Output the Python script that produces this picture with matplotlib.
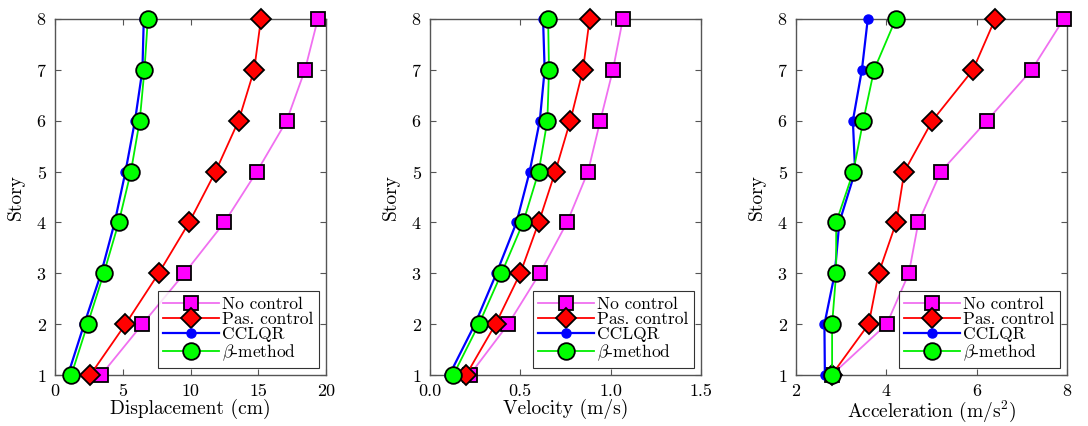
import matplotlib
matplotlib.use("Agg")
import matplotlib.pyplot as plt

plt.rcParams['font.family'] = 'serif'
plt.rcParams['font.serif'] = ['cmr10']
plt.rcParams['mathtext.fontset'] = 'cm'
plt.rcParams['axes.formatter.use_mathtext'] = True

stories = [1, 2, 3, 4, 5, 6, 7, 8]

# displacement (cm)
disp_none = [3.4, 6.45, 9.55, 12.5, 14.9, 17.1, 18.45, 19.4]
disp_pas = [2.6, 5.2, 7.65, 9.9, 11.85, 13.55, 14.7, 15.2]
disp_cclqr = [0.95, 2.15, 3.4, 4.4, 5.2, 5.9, 6.45, 6.55]
disp_beta = [1.2, 2.4, 3.6, 4.7, 5.6, 6.25, 6.6, 6.85]

# velocity (m/s)
vel_none = [0.22, 0.433, 0.608, 0.759, 0.875, 0.943, 1.013, 1.068]
vel_pas = [0.2, 0.363, 0.5, 0.602, 0.694, 0.777, 0.847, 0.884]
vel_cclqr = [0.107, 0.249, 0.368, 0.479, 0.552, 0.608, 0.635, 0.626]
vel_beta = [0.129, 0.271, 0.396, 0.516, 0.602, 0.65, 0.659, 0.654]

# acceleration (m/s^2)
acc_none = [2.79, 4.01, 4.5, 4.71, 5.21, 6.23, 7.22, 7.93]
acc_pas = [2.79, 3.61, 3.83, 4.22, 4.4, 5.02, 5.92, 6.41]
acc_cclqr = [2.64, 2.63, 2.86, 2.96, 3.31, 3.26, 3.46, 3.59]
acc_beta = [2.8, 2.8, 2.89, 2.89, 3.27, 3.49, 3.73, 4.21]

panels = [
    (disp_none, disp_pas, disp_cclqr, disp_beta, 'Displacement (cm)', [0, 5, 10, 15, 20], ['0', '5', '10', '15', '20']),
    (vel_none, vel_pas, vel_cclqr, vel_beta, 'Velocity (m/s)', [0, 0.5, 1.0, 1.5], ['0.0', '0.5', '1.0', '1.5']),
    (acc_none, acc_pas, acc_cclqr, acc_beta, 'Acceleration (m/s$^2$)', [2, 4, 6, 8], ['2', '4', '6', '8']),
]
lefts = [0.0506, 0.3952, 0.7316]

fig = plt.figure(figsize=(10.88, 4.26), dpi=100)
for left, (a, b, c, d, xlabel, xt, xtl) in zip(lefts, panels):
    ax = fig.add_axes([left, 0.1197, 0.249, 0.8357])
    ax.plot(a, stories, '-s', color='#f070f0', mfc='#ff00ff', mec='k', mew=1.3, ms=10,
            lw=1.3, label='No control', clip_on=False, zorder=3)
    ax.plot(b, stories, '-D', color='#ff0000', mfc='#ff0000', mec='k', mew=1.3, ms=10,
            lw=1.3, label='Pas. control', clip_on=False, zorder=4)
    ax.plot(c, stories, '-o', color='#0000ff', mfc='#0000ff', mec='#0000ff', ms=6.5,
            lw=1.6, label='CCLQR', clip_on=False, zorder=5)
    ax.plot(d, stories, '-o', color='#00ee00', mfc='#00ff00', mec='k', mew=1.3, ms=12,
            lw=1.3, label=r'$\beta$-method', clip_on=False, zorder=6)
    ax.set_xlim(xt[0], xt[-1])
    ax.set_ylim(1, 8)
    ax.set_xticks(xt)
    ax.set_xticklabels(xtl)
    ax.set_yticks(stories)
    ax.tick_params(direction='in', top=True, right=True, labelsize=13, length=4, color='#555555')
    ax.tick_params(axis='x', pad=6)
    ax.tick_params(axis='y', pad=6)
    for s in ax.spines.values():
        s.set_color('#555555')
        s.set_linewidth(1.0)
    ax.set_xlabel(xlabel, fontsize=14, labelpad=0)
    ax.set_ylabel('Story', fontsize=14, labelpad=8)
    leg = ax.legend(loc='lower right', fontsize=12.5, frameon=True, fancybox=False,
                    edgecolor='k', borderpad=0.3, labelspacing=0.0, handlelength=3.2,
                    handletextpad=0.2, borderaxespad=0.4)
    leg.get_frame().set_linewidth(0.8)
    leg.set_zorder(10)

fig.savefig('out.png', dpi=100)
